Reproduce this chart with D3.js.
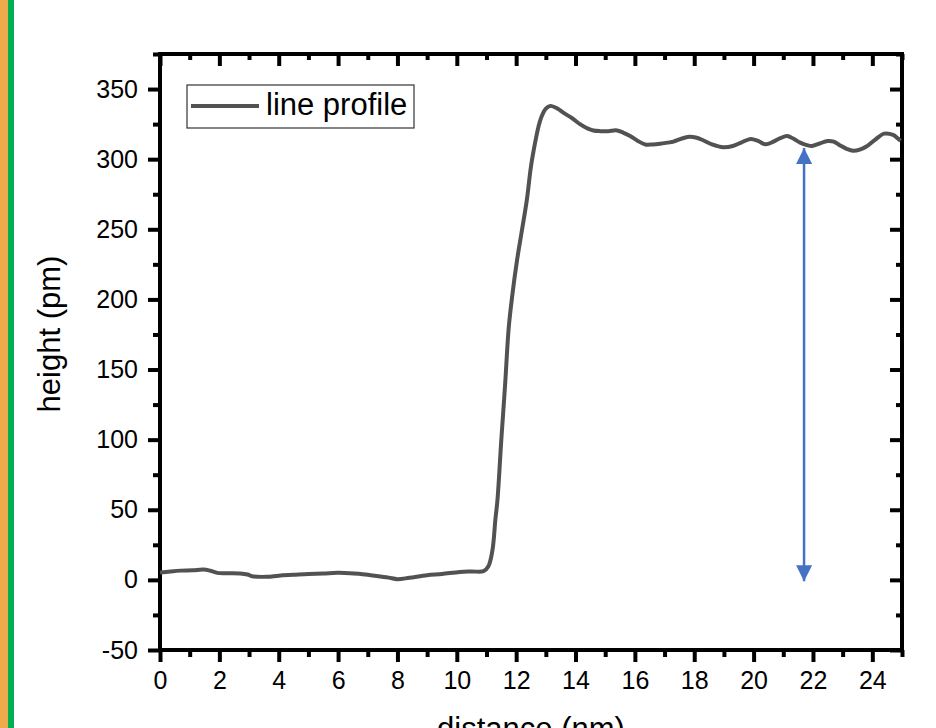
<!DOCTYPE html>
<html>
<head>
<meta charset="utf-8">
<script src="https://cdn.jsdelivr.net/npm/d3@7"></script>
<style>
  body { margin: 0; background: #fff; }
  svg { display: block; }
  text { font-family: Arial, "Liberation Sans", sans-serif; fill: #000; }
</style>
</head>
<body>
<div id="chart"></div>
<script>
// line profile (distance nm -> height pm)
const distance = [0, 0.35, 0.7, 1.1, 1.46, 1.7, 1.93, 2.3, 2.7, 2.95, 3.1, 3.6, 4.0, 4.5, 5.0, 5.5, 5.97, 6.4, 6.7, 7.0,
    7.3, 7.7, 8.0, 8.4, 9.0, 9.5, 10.1, 10.5, 10.9, 11.06, 11.2, 11.3, 11.37, 11.5, 11.63, 11.75, 11.87, 12.03, 12.2, 12.36,
    12.5, 12.64, 12.75, 12.85, 13.0, 13.15, 13.4, 13.6, 13.9, 14.15, 14.4, 14.6, 14.83, 15.1, 15.4, 15.6, 15.84, 16.1, 16.35, 16.6,
    16.85, 17.1, 17.3, 17.55, 17.83, 18.05, 18.3, 18.6, 18.98, 19.3, 19.6, 19.9, 20.15, 20.4, 20.67, 20.9, 21.13, 21.35, 21.57, 21.8,
    21.97, 22.2, 22.5, 22.7, 22.9, 23.15, 23.35, 23.6, 23.8, 24.1, 24.4, 24.7, 24.85, 24.95]
const height = [5.2, 6.0, 6.6, 6.8, 7.4, 6.5, 5.0, 4.8, 4.6, 3.8, 2.6, 2.2, 3.0, 3.6, 4.2, 4.5, 5.0, 4.8, 4.3, 3.6,
    2.8, 1.6, 0.5, 1.5, 3.3, 4.2, 5.7, 6.0, 6.2, 9.5, 21, 43, 57, 100, 140, 180, 203, 228, 250, 271,
    295, 312, 323, 330, 336, 338, 336, 333, 329, 325, 322, 320.5, 320, 320, 320.5, 319, 316.6, 313, 310.5, 310.5,
    311, 311.8, 312.5, 314.5, 316, 315.5, 313.5, 310.5, 308.5, 309.4, 312, 314.4, 313, 310.6, 312.5, 315, 316.6, 314.5, 311.8, 310,
    309.4, 311, 313, 312.5, 310, 307.2, 306, 307, 309, 314, 318.2, 317.3, 315, 313]

const xMajor = [0, 2, 4, 6, 8, 10, 12, 14, 16, 18, 20, 22, 24]
const xMinor = [1, 3, 5, 7, 9, 11, 13, 15, 17, 19, 21, 23, 25]
const yMajor = [-50, 0, 50, 100, 150, 200, 250, 300, 350]
const yMinor = [-25, 25, 75, 125, 175, 225, 275, 325, 375]

// step height marker
const stepX = 21.7
const stepFrom = -1
const stepTo = 308

const W = 936, H = 728
const plotL = 160, plotR = 902, plotT = 54, plotB = 650

const svg = d3.select("#chart").append("svg")
    .attr("width", W)
    .attr("height", H)

// side strip
svg.append("rect").attr("x", 0).attr("y", 0).attr("width", 8).attr("height", H).attr("fill", "#efab4b")
svg.append("rect").attr("x", 8).attr("y", 0).attr("width", 6).attr("height", H).attr("fill", "#00b050")

const x = d3.scaleLinear().domain([0, 25]).range([plotL, plotR])
const y = d3.scaleLinear().domain([-50, 375]).range([plotB, plotT])

const tickStyle = (g, w) => {
    g.select(".domain").remove()
    g.selectAll(".tick line").attr("stroke", "#000").attr("stroke-width", w)
    g.selectAll(".tick text").style("font-size", "25px")
}
const plain = d => String(d)

// bottom / left: ticks outside
svg.append("g").attr("transform", `translate(0,${plotB})`)
    .call(d3.axisBottom(x).tickValues(xMinor).tickSize(7).tickFormat(""))
    .call(g => tickStyle(g, 4))
svg.append("g").attr("transform", `translate(0,${plotB})`)
    .call(d3.axisBottom(x).tickValues(xMajor).tickSize(12).tickPadding(9).tickFormat(plain))
    .call(g => tickStyle(g, 4))
svg.append("g").attr("transform", `translate(${plotL},0)`)
    .call(d3.axisLeft(y).tickValues(yMinor).tickSize(7).tickFormat(""))
    .call(g => tickStyle(g, 4))
svg.append("g").attr("transform", `translate(${plotL},0)`)
    .call(d3.axisLeft(y).tickValues(yMajor).tickSize(12).tickPadding(10).tickFormat(plain))
    .call(g => tickStyle(g, 4))

// top / right: ticks inside
svg.append("g").attr("transform", `translate(0,${plotT})`)
    .call(d3.axisTop(x).tickValues(xMinor).tickSize(-6).tickFormat(""))
    .call(g => tickStyle(g, 4))
svg.append("g").attr("transform", `translate(0,${plotT})`)
    .call(d3.axisTop(x).tickValues(xMajor).tickSize(-12).tickFormat(""))
    .call(g => tickStyle(g, 4))
svg.append("g").attr("transform", `translate(${plotR},0)`)
    .call(d3.axisRight(y).tickValues(yMinor).tickSize(-6).tickFormat(""))
    .call(g => tickStyle(g, 4))
svg.append("g").attr("transform", `translate(${plotR},0)`)
    .call(d3.axisRight(y).tickValues(yMajor).tickSize(-12).tickFormat(""))
    .call(g => tickStyle(g, 4))

svg.append("rect")
    .attr("x", plotL).attr("y", plotT)
    .attr("width", plotR - plotL).attr("height", plotB - plotT)
    .attr("fill", "none").attr("stroke", "#000").attr("stroke-width", 4)

// axis titles
svg.append("text")
    .attr("x", (plotL + plotR) / 2).attr("y", 739)
    .attr("text-anchor", "middle")
    .style("font-size", "31px")
    .text("distance (nm)")
svg.append("text")
    .attr("transform", `translate(60,${(plotT + plotB) / 2 - 18}) rotate(-90)`)
    .attr("text-anchor", "middle")
    .style("font-size", "31px")
    .text("height (pm)")

// profile line
const points = distance.map((d, i) => ({x: d, y: height[i]}))
const line = d3.line()
    .x(d => x(d.x))
    .y(d => y(d.y))
    .curve(d3.curveCatmullRom)
svg.append("path")
    .datum(points)
    .attr("d", line)
    .attr("fill", "none")
    .attr("stroke", "#525252")
    .attr("stroke-width", 4)
    .attr("stroke-linejoin", "round")

// double arrow for the step height
const defs = svg.append("defs")
defs.append("marker")
    .attr("id", "head")
    .attr("viewBox", "0 0 10 10")
    .attr("refX", 10).attr("refY", 5)
    .attr("markerWidth", 16).attr("markerHeight", 16)
    .attr("markerUnits", "userSpaceOnUse")
    .attr("orient", "auto-start-reverse")
    .append("path")
    .attr("d", "M0,0 L10,5 L0,10 Z")
    .attr("fill", "#4472c4")
svg.append("line")
    .attr("x1", x(stepX)).attr("x2", x(stepX))
    .attr("y1", y(stepFrom)).attr("y2", y(stepTo))
    .attr("stroke", "#4472c4")
    .attr("stroke-width", 2.5)
    .attr("marker-start", "url(#head)")
    .attr("marker-end", "url(#head)")

// legend
const legend = svg.append("g")
legend.append("rect")
    .attr("x", 187).attr("y", 85).attr("width", 227).attr("height", 43)
    .attr("fill", "#fff").attr("stroke", "#333").attr("stroke-width", 1.2)
legend.append("line")
    .attr("x1", 191).attr("x2", 259).attr("y1", 106).attr("y2", 106)
    .attr("stroke", "#525252").attr("stroke-width", 4)
legend.append("text")
    .attr("x", 266).attr("y", 115)
    .style("font-size", "31px")
    .text("line profile")
</script>
</body>
</html>
